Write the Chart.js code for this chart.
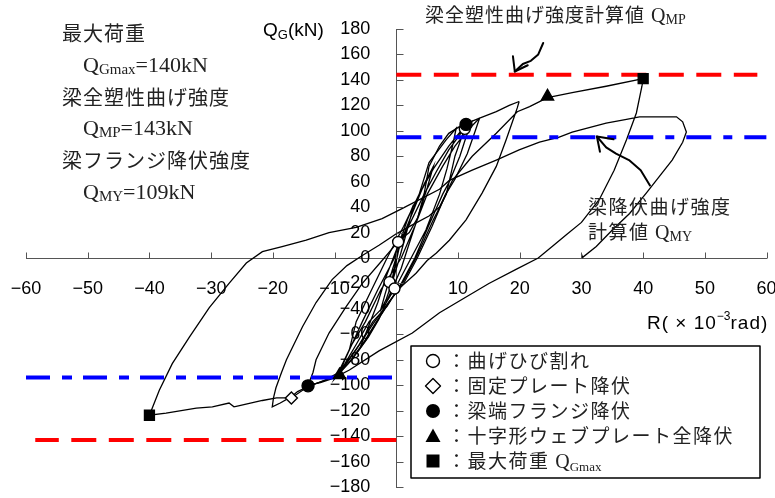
<!DOCTYPE html>
<html>
<head>
<meta charset="utf-8">
<script src="https://cdn.jsdelivr.net/npm/chart.js@4/dist/chart.umd.min.js"></script>
<style>
  html, body { margin: 0; padding: 0; background: #fff; }
  #wrap { width: 775px; height: 498px; }
</style>
</head>
<body>
<div id="wrap"><canvas id="chart" width="775" height="498"></canvas></div>
<script>
// axis ranges (R in 10^-3 rad, Q_G in kN)
const xRange = [-60, 60];
const yRange = [-180, 180];
const xStep = 10;
const yStep = 20;

// hysteresis path, split by cycle group; [R, Q]
const smallCycles = [
    [0, 0], [0.3, 6], [0.6, 12], [1.0, 20], [0.6, 11], [0.1, 0], [-0.4, -12], [-0.8, -20], [-0.4, -10], [0.1, 0],
    [0.8, 16], [1.8, 30], [2.8, 42], [2.2, 30], [1.2, 12], [0.4, -2], [-0.6, -18], [-1.6, -32], [-2.6, -42],
    [-1.8, -28], [-0.8, -12], [0.2, 4], [1.5, 22], [3, 40], [4.5, 58], [6, 72], [5, 55], [3.5, 32], [2, 10],
    [0.8, -8], [-1, -28], [-2.8, -48], [-4.5, -62], [-6, -72], [-4.6, -55], [-3, -35], [-1.6, -14],
    [0, 6], [1.8, 25], [3.7, 50], [5.3, 75], [8.1, 93], [9.7, 102],
    [9.2, 90], [8.2, 70], [7, 50], [4.8, 22], [2.4, 0], [0, -22], [-2, -38], [-4.4, -50], [-6.5, -68], [-8.2, -82], [-9.2, -92],
    [-8.5, -82], [-7.2, -68], [-5.5, -50], [-3, -25], [-0.3, 0], [2, 25], [4.5, 50], [6.5, 68], [8.5, 85], [10.3, 97], [11.2, 104],
    [10.6, 95], [9.5, 80], [8.1, 50], [6, 30], [3.2, 0], [1, -20], [-1.2, -35], [-3.2, -50], [-5.5, -68], [-7.8, -83], [-10, -95],
    [-9, -86], [-7.6, -72], [-6.5, -50], [-4, -25], [-1.5, 0], [1.2, 25], [3.7, 50], [6, 70], [8.5, 88], [10.5, 100], [12.2, 107],
    [11.5, 98], [10.3, 80], [8.6, 60], [7.5, 50], [5.2, 25], [3, 0], [0.8, -20], [-1.5, -38], [-3.8, -50], [-6, -68], [-8, -82], [-9.6, -94],
    [-8.8, -85], [-7.2, -68], [-5, -50], [-2.5, -25], [0.8, 0], [3, 25], [5, 50], [7.5, 72], [9.5, 88], [11.5, 100], [13.5, 110]
];
const cycle15 = [
    [13.5, 110], [12.8, 100], [11.5, 82], [9.5, 62], [8, 50], [5.8, 25], [3.4, 0], [1.2, -20], [-1.3, -35], [-3.8, -52],
    [-6.5, -72], [-8.5, -86], [-10.5, -95], [-12.3, -98], [-14.3, -100],
    [-13.5, -90], [-13, -80], [-10.9, -59], [-8.1, -38], [-5.5, -20], [-2.3, -2], [0.5, 14], [2.1, 20], [3.5, 32],
    [4.5, 50], [5.3, 72], [7, 88], [8.5, 98], [10.5, 104], [13.5, 110], [16.2, 115], [18.3, 120], [19.9, 123]
];
const cycle20 = [
    [19.9, 123], [19.6, 118], [19.1, 111], [17.8, 93], [16.2, 72], [13.9, 51], [11.3, 30], [8.6, 14], [6.5, 4], [5, -2],
    [3.2, -12], [0, -26], [-2.5, -45], [-5, -65], [-7.2, -80], [-9, -89], [-11.5, -96], [-14.3, -101], [-16, -105],
    [-17, -109], [-18.8, -114], [-20.1, -117],
    [-19.9, -110], [-19.5, -102], [-18.6, -90], [-17.8, -80], [-15.2, -54], [-13, -35], [-10.4, -17], [-8, -6],
    [-5.5, 2], [-2.8, 10], [0, 19], [2.6, 26], [5.3, 33], [7, 40], [8, 50], [9.1, 61], [12.3, 80], [16.2, 98],
    [19.6, 115], [21.6, 119], [24.5, 126], [28.5, 130], [34, 135], [40, 141]
];
const cycle40 = [
    [40, 141], [39.8, 135], [38.9, 114], [37.3, 93], [35.3, 69], [32.9, 46], [30, 28], [27.5, 18], [25.5, 10], [23, 0],
    [19.4, -9], [15, -20], [7, -43], [2.6, -59], [-2.8, -73], [-7.6, -88], [-9.2, -92], [-11.5, -96], [-14.3, -101],
    [-17, -110], [-19.4, -110], [-21.7, -112], [-25.4, -116], [-26.3, -117], [-27.1, -114], [-29.8, -117],
    [-32.4, -118], [-37.3, -122], [-40, -123.6],
    [-38.4, -104], [-36.3, -83], [-33.5, -62], [-30.3, -39], [-27.1, -20], [-24.3, -4], [-21.7, 5], [-18.5, 9],
    [-14.6, 14], [-10.9, 20], [-6.5, 24], [-2.3, 31], [1, 39], [7, 54], [8.6, 61], [12.3, 69], [16.2, 77],
    [19.9, 85], [23.2, 91], [26.4, 95], [28.5, 99], [34, 106], [37.3, 109], [39.4, 111], [42.1, 111], [45.4, 111],
    [46.4, 107], [47, 99], [46.4, 91], [44.7, 77], [42.6, 64], [40.5, 51], [37.8, 35], [35, 22], [32.4, 9],
    [30.2, 0.5], [30, 3]
];

// event markers
const crackPts = [[0.3, 12.6], [-1.1, -19], [-0.3, -24], [11.1, 101.5]];
const flangePts = [[11.3, 105], [-14.3, -100.5]];
const platePts = [[-17, -110]];
const webPts = [[24.5, 127], [-9.2, -92]];
const maxPts = [[40, 141], [-40, -123.6]];

// strength lines
const qmpPos = [[0, 144], [58.5, 144]];
const qmpNeg = [[0, -143], [-58.5, -143]];
const qmyPos = [[0, 95], [60, 95]];
const qmyNeg = [[-60, -94], [0, -94]];

// annotation arrows, in data units
const arrowMP = [[23.8, 169], [23.0, 160], [21.8, 155], [20.5, 152.5], [19.2, 146.6]];
const arrowMPHead = [[18.9, 158.5], [19.2, 146.6], [21.3, 151.5]];
const arrowMY = [[41.1, 57], [39.6, 69], [37.7, 77], [35.6, 82], [34.0, 87], [32.5, 95.5]];
const arrowMYHead = [[33.0, 83.5], [32.5, 95.5], [35.2, 93.3]];

const legendLabels = ['：曲げひび割れ', '：固定プレート降伏', '：梁端フランジ降伏', '：十字形ウェブプレート全降伏', '：最大荷重 '];

const JP = '"Noto Sans CJK JP", sans-serif';
const SERIF = '"Liberation Serif", "Times New Roman", serif';
const SANS = '"Liberation Sans", Arial, sans-serif';
const AXIS_COLOR = '#555';

function pts(arr) {
    return arr.map(p => ({x: p[0], y: p[1]}));
}

function curveSet(arr) {
    return {
        data: pts(arr), showLine: true, borderColor: '#000', borderWidth: 1.3,
        pointRadius: 0, tension: 0, fill: false, order: 3
    };
}

function refSet(arr, color, dash) {
    return {
        data: pts(arr), showLine: true, borderColor: color, borderWidth: 4,
        borderDash: dash, pointRadius: 0, fill: false, order: 2
    };
}

function markerSet(arr, style, radius, bg) {
    return {
        data: pts(arr), showLine: false, pointStyle: style, pointRadius: radius,
        pointBackgroundColor: bg, pointBorderColor: '#000', pointBorderWidth: 1.4, order: 1
    };
}

function minus(v) {
    return String(v).replace('-', '\u2212');
}

// draws consecutive text pieces on one baseline
function drawParts(ctx, x, y, parts) {
    parts.forEach(p => {
        ctx.font = p.font;
        ctx.letterSpacing = (p.spacing || 0) + 'px';
        ctx.fillText(p.text, x, y + (p.dy || 0));
        x += ctx.measureText(p.text).width;
    });
    ctx.letterSpacing = '0px';
}

function drawJP(ctx, text, x, y, size, spacing) {
    ctx.font = size + 'px ' + JP;
    ctx.letterSpacing = spacing + 'px';
    ctx.textBaseline = 'middle';
    ctx.fillText(text, x, y);
    ctx.letterSpacing = '0px';
    ctx.textBaseline = 'alphabetic';
}

function qLabel(sub, rest, size) {
    return [
        {text: 'Q', font: size + 'px ' + SERIF},
        {text: sub, font: Math.round(size * 0.66) + 'px ' + SERIF, dy: 2},
        {text: rest, font: size + 'px ' + SERIF}
    ];
}

function strokePath(ctx, chart, arr) {
    const sx = chart.scales.x, sy = chart.scales.y;
    ctx.beginPath();
    arr.forEach((p, i) => {
        const px = sx.getPixelForValue(p[0]), py = sy.getPixelForValue(p[1]);
        if (i === 0) ctx.moveTo(px, py); else ctx.lineTo(px, py);
    });
    ctx.stroke();
}

function legendMarker(ctx, kind, x, y) {
    ctx.save();
    ctx.lineWidth = 1.4;
    ctx.strokeStyle = '#000';
    ctx.fillStyle = '#000';
    ctx.beginPath();
    if (kind === 0) {
        ctx.arc(x, y, 6.5, 0, Math.PI * 2);
        ctx.fillStyle = '#fff'; ctx.fill(); ctx.stroke();
    } else if (kind === 1) {
        ctx.moveTo(x, y - 7.5); ctx.lineTo(x + 7.5, y); ctx.lineTo(x, y + 7.5); ctx.lineTo(x - 7.5, y); ctx.closePath();
        ctx.fillStyle = '#fff'; ctx.fill(); ctx.stroke();
    } else if (kind === 2) {
        ctx.arc(x, y, 7, 0, Math.PI * 2); ctx.fill();
    } else if (kind === 3) {
        ctx.moveTo(x, y - 7.5); ctx.lineTo(x + 7.5, y + 6); ctx.lineTo(x - 7.5, y + 6); ctx.closePath(); ctx.fill();
    } else {
        ctx.rect(x - 6.5, y - 6.5, 13, 13); ctx.fill();
    }
    ctx.restore();
}

// inward tick marks (labels sit outside, marks point into the plot)
const innerTicks = {
    id: 'innerTicks',
    afterDatasetsDraw(chart) {
        const ctx = chart.ctx;
        const sx = chart.scales.x, sy = chart.scales.y;
        const x0 = Math.round(sx.getPixelForValue(0)) + 0.5;
        const y0 = Math.round(sy.getPixelForValue(0)) + 0.5;
        ctx.save();
        ctx.strokeStyle = AXIS_COLOR;
        ctx.lineWidth = 1;
        ctx.beginPath();
        sx.ticks.forEach(t => {
            const px = Math.round(sx.getPixelForValue(t.value)) + 0.5;
            ctx.moveTo(px, y0); ctx.lineTo(px, y0 - 6);
        });
        sy.ticks.forEach(t => {
            const py = Math.round(sy.getPixelForValue(t.value)) + 0.5;
            ctx.moveTo(x0, py); ctx.lineTo(x0 + 7, py);
        });
        ctx.stroke();
        ctx.restore();
    }
};

const annotations = {
    id: 'annotations',
    afterDraw(chart) {
        const ctx = chart.ctx;
        ctx.save();
        ctx.fillStyle = '#222';

        // strength summary, top left
        drawJP(ctx, '最大荷重', 62, 33, 20, 1);
        drawParts(ctx, 83, 72, qLabel('Gmax', '=140kN', 22));
        drawJP(ctx, '梁全塑性曲げ強度', 62, 97, 20, 1);
        drawParts(ctx, 83, 135, qLabel('MP', '=143kN', 22));
        drawJP(ctx, '梁フランジ降伏強度', 62, 160, 20, 1);
        drawParts(ctx, 83, 199, qLabel('MY', '=109kN', 22));

        // axis titles
        ctx.fillStyle = '#000';
        drawParts(ctx, 263, 36, [
            {text: 'Q', font: '19px ' + SANS},
            {text: 'G', font: '13px ' + SANS, dy: 3},
            {text: '(kN)', font: '19px ' + SANS}
        ]);
        drawParts(ctx, 647, 329, [
            {text: 'R( \u00d7 10', font: '19px ' + SANS, spacing: 1},
            {text: '\u22123', font: '12px ' + SANS, dy: -9},
            {text: 'rad)', font: '19px ' + SANS, spacing: 1}
        ]);

        // callouts for the strength lines
        ctx.fillStyle = '#222';
        drawJP(ctx, '梁全塑性曲げ強度計算値', 425, 15, 19, 1);
        drawParts(ctx, 651, 22, [
            {text: 'Q', font: '20px ' + SERIF},
            {text: 'MP', font: '14px ' + SERIF, dy: 2}
        ]);
        drawJP(ctx, '梁降伏曲げ強度', 588, 207, 19, 1.5);
        drawJP(ctx, '計算値', 588, 232, 19, 1.5);
        drawParts(ctx, 655, 239, [
            {text: 'Q', font: '20px ' + SERIF},
            {text: 'MY', font: '14px ' + SERIF, dy: 2}
        ]);

        ctx.strokeStyle = '#000';
        ctx.lineWidth = 2;
        ctx.lineJoin = 'round';
        ctx.lineCap = 'round';
        strokePath(ctx, chart, arrowMP);
        strokePath(ctx, chart, arrowMPHead);
        strokePath(ctx, chart, arrowMY);
        strokePath(ctx, chart, arrowMYHead);

        // legend box
        ctx.lineWidth = 1.5;
        ctx.lineCap = 'butt';
        ctx.fillStyle = '#fff';
        ctx.fillRect(411, 346, 349, 132);
        ctx.strokeRect(411, 346, 349, 132);
        legendLabels.forEach((label, i) => {
            const y = 361 + i * 25;
            legendMarker(ctx, i, 433, y);
            ctx.fillStyle = '#222';
            drawJP(ctx, label, 447, y, 19, 1.5);
            if (i === 4) {
                ctx.font = '19px ' + JP;
                ctx.letterSpacing = '1.5px';
                const w = ctx.measureText(label).width;
                ctx.letterSpacing = '0px';
                drawParts(ctx, 447 + w, y + 7, [
                    {text: 'Q', font: '20px ' + SERIF},
                    {text: 'Gmax', font: '13px ' + SERIF, dy: 3}
                ]);
            }
        });
        ctx.restore();
    }
};

const ctx = document.getElementById('chart').getContext('2d');
const chart = new Chart(ctx, {
    type: 'scatter',
    data: {
        datasets: [
            markerSet(flangePts, 'circle', 6, '#000'),
            markerSet(crackPts, 'circle', 5.5, '#fff'),
            markerSet(platePts, 'rectRot', 6, '#fff'),
            markerSet(webPts, 'triangle', 7, '#000'),
            markerSet(maxPts, 'rect', 7, '#000'),
            refSet(qmpPos, '#ff0000', [25, 12.5]),
            refSet(qmpNeg, '#ff0000', [25, 12.5]),
            refSet(qmyPos, '#0000ff', [25, 12, 9, 12]),
            refSet(qmyNeg, '#0000ff', [24, 12, 10, 11]),
            curveSet(smallCycles),
            curveSet(cycle15),
            curveSet(cycle20),
            curveSet(cycle40)
        ]
    },
    options: {
        responsive: false,
        animation: false,
        layout: {padding: {left: 26, right: 8, top: 29, bottom: 11}},
        plugins: {
            legend: {display: false},
            tooltip: {enabled: false}
        },
        scales: {
            x: {
                type: 'linear', position: 'center', min: xRange[0], max: xRange[1],
                ticks: {
                    stepSize: xStep, autoSkip: false, maxRotation: 0, padding: -2, color: '#000',
                    font: {family: SANS, size: 18},
                    callback: v => v === 0 ? '' : minus(v)
                },
                // tick length only spaces the labels; the visible marks come from innerTicks
                grid: {drawOnChartArea: false, drawTicks: true, tickLength: 22, tickColor: 'rgba(0,0,0,0)'},
                border: {color: AXIS_COLOR, width: 1}
            },
            y: {
                type: 'linear', position: 'center', min: yRange[0], max: yRange[1],
                ticks: {
                    stepSize: yStep, autoSkip: false, padding: 0, color: '#000',
                    font: {family: SANS, size: 18},
                    callback: v => minus(v)
                },
                grid: {drawOnChartArea: false, drawTicks: true, tickLength: 26, tickColor: 'rgba(0,0,0,0)'},
                border: {color: AXIS_COLOR, width: 1}
            }
        }
    },
    plugins: [innerTicks, annotations]
});
</script>
</body>
</html>
